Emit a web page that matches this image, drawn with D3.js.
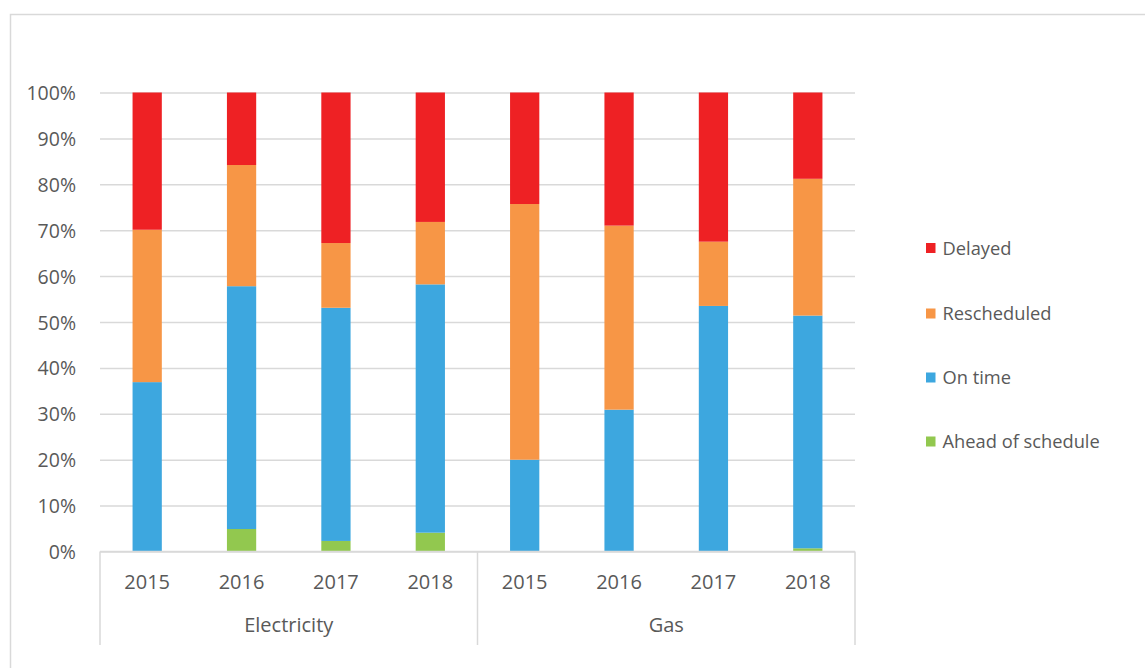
<!DOCTYPE html>
<html>
<head>
<meta charset="utf-8">
<script src="https://cdn.jsdelivr.net/npm/d3@7"></script>
<style>
  body { margin: 0; background: #fff; }
  svg text { font-family: "Open Sans", sans-serif; fill: #595959; }
</style>
</head>
<body>
<div id="chart"></div>
<script>
// categories: outer groups and inner years
const groups = ["Electricity", "Gas"];
const years = ["2015", "2016", "2017", "2018"];

// series values (% of projects), one entry per group/year, Electricity first
const ahead       = [0.0, 4.9, 2.3, 4.1, 0.0, 0.0, 0.0, 0.7];
const onTime      = [36.9, 52.9, 50.8, 54.1, 20.0, 30.9, 53.5, 50.7];
const rescheduled = [33.2, 26.4, 14.1, 13.6, 55.7, 40.1, 14.0, 29.8];
const delayed     = [29.9, 15.8, 32.8, 28.2, 24.3, 29.0, 32.5, 18.8];

const seriesNames = ["Ahead of schedule", "On time", "Rescheduled", "Delayed"];
const seriesColors = ["#92C84F", "#3DA7DF", "#F79646", "#EE2124"];
const yTicks = [0, 10, 20, 30, 40, 50, 60, 70, 80, 90, 100];

const W = 1145, H = 668;
const plot = { left: 100, right: 855, top: 92.5, bottom: 551.5 };

const svg = d3.select("#chart").append("svg")
    .attr("width", W).attr("height", H);

// chart area border
svg.append("rect")
    .attr("x", 10.5).attr("y", 14.5)
    .attr("width", W + 20).attr("height", H + 20)
    .attr("fill", "#fff")
    .attr("stroke", "#D9D9D9").attr("stroke-width", 1.5);

// one row per bar
const rows = [];
groups.forEach((g, gi) => years.forEach((yr, yi) => {
    const i = gi * years.length + yi;
    rows.push({
        key: g + "-" + yr, group: g, year: yr,
        "Ahead of schedule": ahead[i], "On time": onTime[i],
        "Rescheduled": rescheduled[i], "Delayed": delayed[i]
    });
}));

const x = d3.scaleBand()
    .domain(rows.map(d => d.key))
    .range([plot.left, plot.right])
    .paddingInner(0.69).paddingOuter(0.345);

const y = d3.scaleLinear().domain([0, 100]).range([plot.bottom, plot.top]);

/* ---- gridlines + y labels ---- */
const yAxis = svg.append("g")
    .attr("transform", `translate(${plot.left},0)`)
    .call(d3.axisLeft(y).tickValues(yTicks)
        .tickSize(-(plot.right - plot.left))
        .tickPadding(24)
        .tickFormat(d => d + "%"));
yAxis.select(".domain").remove();
yAxis.selectAll(".tick line").attr("stroke", "#D9D9D9").attr("stroke-width", 1.5);
yAxis.selectAll(".tick text")
    .attr("font-size", "19.5px")
    .attr("dy", null).attr("y", 7);

/* ---- stacked bars ---- */
const stack = d3.stack().keys(seriesNames);
const layers = stack(rows);

svg.append("g").selectAll("g")
    .data(layers)
    .join("g")
    .attr("fill", (d, i) => seriesColors[i])
    .selectAll("rect")
    .data(d => d)
    .join("rect")
    .attr("x", d => x(d.data.key))
    .attr("width", x.bandwidth())
    .attr("y", d => y(d[1]))
    .attr("height", d => y(d[0]) - y(d[1]));

/* ---- multi-level category axis ---- */
const axisColor = "#D9D9D9";
const catG = svg.append("g");
catG.append("line")
    .attr("x1", plot.left).attr("x2", plot.right)
    .attr("y1", plot.bottom).attr("y2", plot.bottom)
    .attr("stroke", axisColor).attr("stroke-width", 1.5);

const step = x.step();
const groupEdges = d3.range(groups.length + 1).map(i => plot.left + i * years.length * step);
catG.selectAll("line.sep")
    .data(groupEdges)
    .join("line")
    .attr("class", "sep")
    .attr("x1", d => d).attr("x2", d => d)
    .attr("y1", plot.bottom).attr("y2", 645)
    .attr("stroke", axisColor).attr("stroke-width", 1.5);

catG.selectAll("text.year")
    .data(rows)
    .join("text")
    .attr("class", "year")
    .attr("x", d => x(d.key) + x.bandwidth() / 2)
    .attr("y", 589)
    .attr("text-anchor", "middle")
    .attr("font-size", "20px")
    .text(d => d.year);

catG.selectAll("text.group")
    .data(groups)
    .join("text")
    .attr("class", "group")
    .attr("x", (d, i) => (groupEdges[i] + groupEdges[i + 1]) / 2)
    .attr("y", 632)
    .attr("text-anchor", "middle")
    .attr("font-size", "20px")
    .text(d => d);

/* ---- legend (Delayed on top) ---- */
const legendItems = seriesNames.map((n, i) => ({ name: n, color: seriesColors[i] })).reverse();
const legendY = [248, 313.5, 377.5, 441.5];
const legend = svg.append("g").selectAll("g")
    .data(legendItems)
    .join("g")
    .attr("transform", (d, i) => `translate(926,${legendY[i]})`);
legend.append("rect")
    .attr("x", 0).attr("y", -5)
    .attr("width", 9.5).attr("height", 10)
    .attr("fill", d => d.color);
legend.append("text")
    .attr("x", 16.5).attr("y", 6.5)
    .attr("font-size", "18.3px")
    .text(d => d.name);
</script>
</body>
</html>
